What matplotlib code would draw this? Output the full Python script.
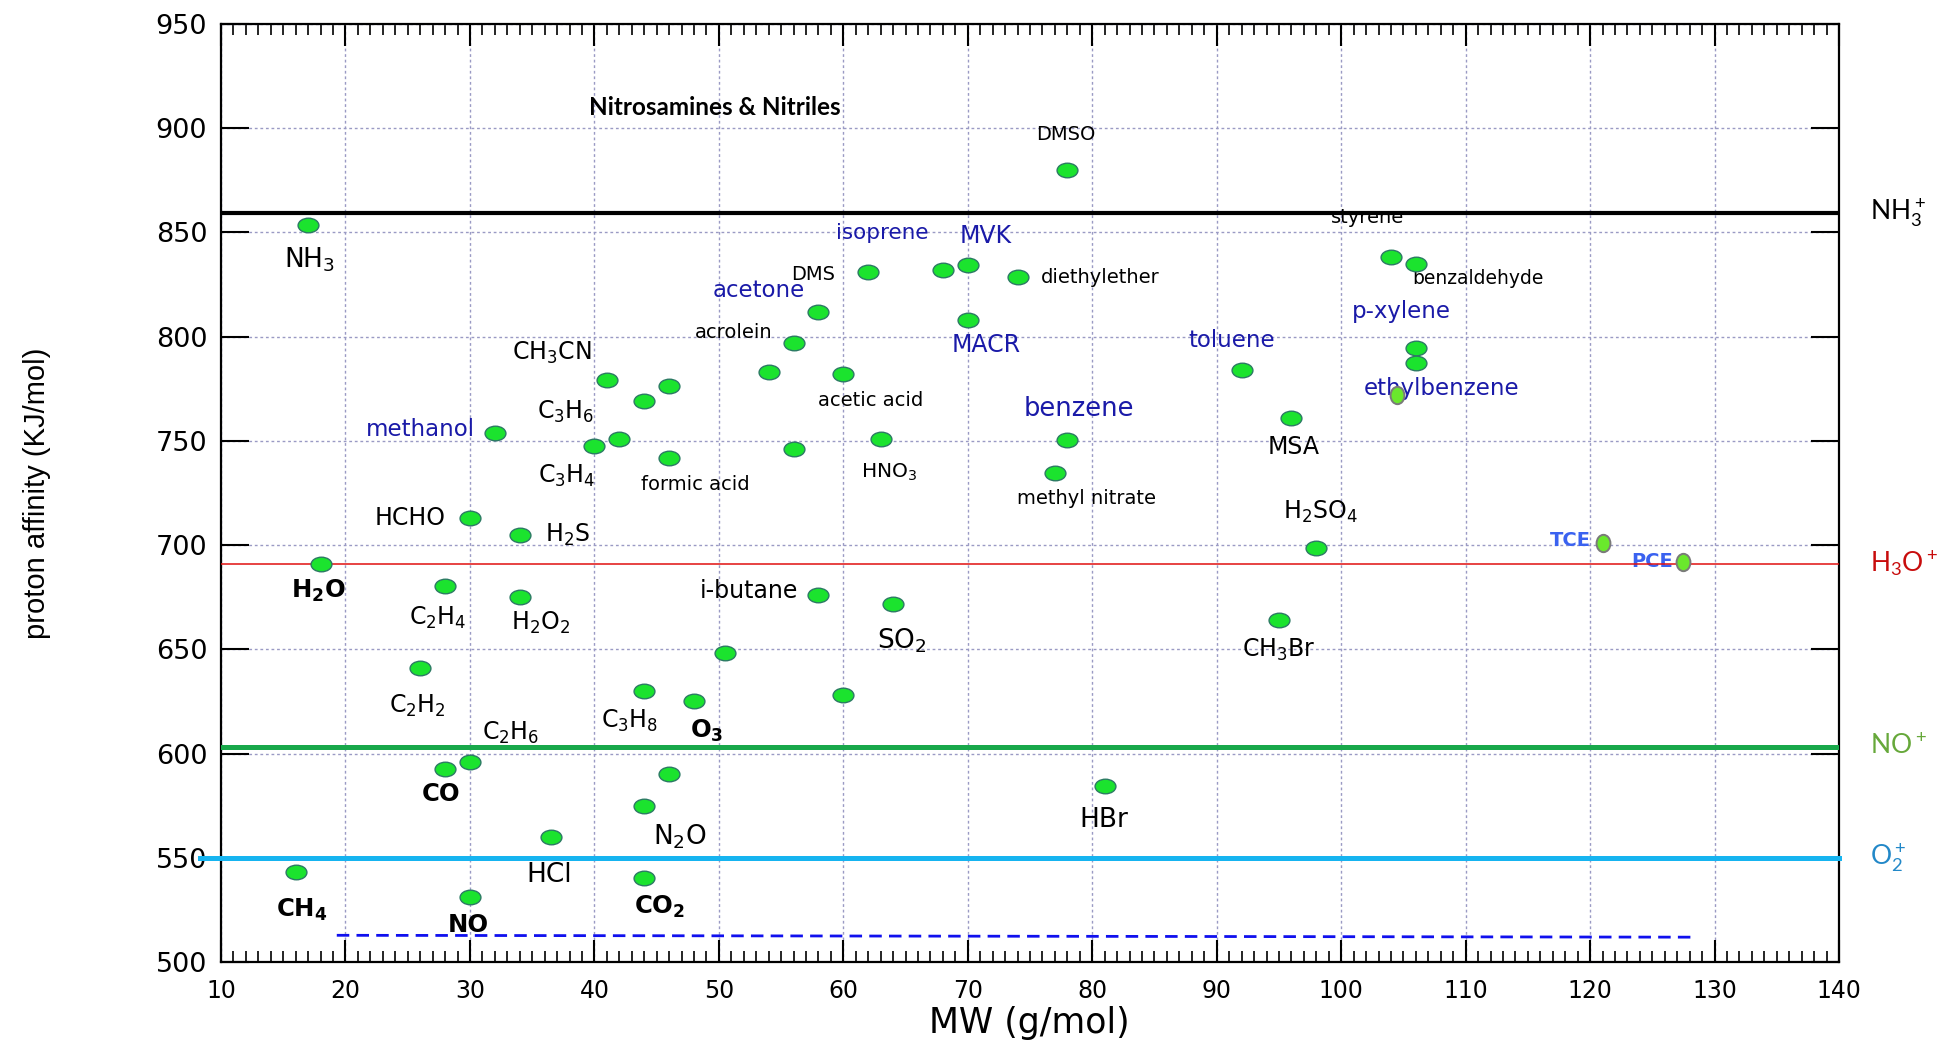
import numpy as np
import matplotlib
matplotlib.use('Agg')
import matplotlib.pyplot as plt
from matplotlib.path import Path
#--------------------------------------------------------------------------------------------------------------------
# Data: molecular weight (g/mol) and proton affinity (kJ/mol)
#--------------------------------------------------------------------------------------------------------------------
names = ['NH3', 'DMSO', 'DMS', 'isoprene', 'MVK', 'diethylether', 'MACR', 'acetone', 'acrolein', '-',
         'acetic acid', 'CH3CN', '-', '-', 'methanol', 'C3H4', 'C3H6', 'formic acid', '-', 'HNO3',
         'benzene', 'methyl nitrate', 'HCHO', 'H2S', 'H2O', 'C2H4', 'H2O2', 'i-butane', 'SO2', '-',
         'C2H2', 'C3H8', 'O3', '-', 'CO', 'C2H6', '-', 'N2O', 'HCl', 'CH4',
         'CO2', 'NO', 'HBr', 'CH3Br', 'H2SO4', 'MSA', 'toluene', 'styrene', 'benzaldehyde', 'p-xylene', '-']
mw = [17, 78, 62, 68, 70, 74, 70, 58, 56, 54,
      60, 41, 46, 44, 32, 40, 42, 46, 56, 63,
      78, 77, 30, 34, 18, 28, 34, 58, 64, 50.5,
      26, 44, 48, 60, 28, 30, 46, 44, 36.5, 16,
      44, 30, 81, 95, 98, 96, 92, 104, 106, 106, 106]
pa = [853.5, 880, 831, 832, 834.5, 828.5, 808, 812, 797, 783,
      782, 779, 776.5, 769, 754, 747.6, 751, 741.7, 746.2, 751,
      750.5, 734.5, 713, 705, 691, 680.5, 675, 676, 671.5, 648,
      641, 630, 625, 628, 592.6, 596, 590, 575, 560, 543,
      540.5, 531, 584.4, 664, 698.5, 761, 784, 838.2, 834.7, 794.7, 787.5]

# chlorinated / extra compounds (other marker)
names2 = ['ethylbenzene', 'TCE', 'PCE']
mw2 = [104.5, 121, 127.5]
pa2 = [772, 701, 692]

# reagent ion proton affinity levels
ions = [r'NH$_3^+$', r'H$_3$O$^+$', r'NO$^+$', r'O$_2^+$']
ion_pa = [859.5, 691, 603, 550]

# detection limit dashed line
limit_mw = [19.3, 128.1]
limit_pa = [512.8, 511.9]
#--------------------------------------------------------------------------------------------------------------------
# Fonts
#--------------------------------------------------------------------------------------------------------------------
plt.rcParams['font.family'] = 'DejaVu Sans'
plt.rcParams['mathtext.default'] = 'regular'
#--------------------------------------------------------------------------------------------------------------------
# Figure
#--------------------------------------------------------------------------------------------------------------------
fig = plt.figure(figsize=(19.44, 10.42), dpi=100)
ax = fig.add_axes([0.1137, 0.0768, 0.8323, 0.9002])

ax.set_xlim(10, 140)
ax.set_ylim(500, 950)
ax.set_xticks(np.arange(10, 141, 10))
ax.set_xticks(np.arange(10, 141, 1), minor=True)
ax.set_yticks(np.arange(500, 951, 50))
ax.grid(True, which='major', color='#9a9ac4', linestyle=(0, (2, 2)), linewidth=1.0, zorder=0)
ax.set_axisbelow(True)
ax.tick_params(axis='x', which='major', direction='in', length=16, width=1.5, top=True, labelsize=17, pad=12)
ax.tick_params(axis='x', which='minor', direction='in', length=8, width=1.2, top=True)
ax.tick_params(axis='y', which='major', direction='in', length=20, width=1.5, right=True, labelsize=19.5, pad=10)
for sp in ax.spines.values():
    sp.set_linewidth(1.6)

# ion lines
ax.axhline(ion_pa[0], color='black', linewidth=3.0, zorder=4)
ax.axhline(ion_pa[1], color='#e01010', linewidth=1.1, zorder=4)
ax.axhline(ion_pa[2], color='#18a84a', linewidth=3.6, zorder=4)
ax.plot([8.3, 140], [ion_pa[3], ion_pa[3]], color='#16b4f0', linewidth=3.6, zorder=4, clip_on=False)
ax.plot(limit_mw, limit_pa, color='#1010ee', linewidth=2.0, linestyle=(0, (4.5, 2.6)), zorder=4)

# elliptic markers
circ = Path.unit_circle()
wide = Path(circ.vertices * np.array([1.0, 0.7]), circ.codes)
tall = Path(circ.vertices * np.array([0.8, 1.0]), circ.codes)
ax.plot(mw, pa, linestyle='none', marker=wide, markersize=15, markerfacecolor='#1be32e',
        markeredgecolor='#2c7a64', markeredgewidth=1.0, zorder=6)
ax.plot(mw2, pa2, linestyle='none', marker=tall, markersize=12.5, markerfacecolor='#6ae82c',
        markeredgecolor='#7a7a7a', markeredgewidth=1.4, zorder=6)

# compound labels: text, x, y, color, size, weight
BL = '#1a1aa8'
labels = [
    (r'NH$_3$', 17.1, 837, 'black', 19, 'normal'),
    ('DMSO', 77.9, 897, 'black', 14, 'normal'),
    ('DMS', 57.6, 830, 'black', 14, 'normal'),
    ('isoprene', 63.1, 849.5, BL, 15.5, 'normal'),
    ('MVK', 71.4, 848.5, BL, 17, 'normal'),
    ('acetone', 53.2, 822, BL, 16.5, 'normal'),
    ('MACR', 71.5, 796, BL, 17, 'normal'),
    ('acrolein', 51.2, 802, 'black', 14, 'normal'),
    (r'CH$_3$CN', 36.6, 792, 'black', 17, 'normal'),
    ('acetic acid', 62.2, 769.5, 'black', 14, 'normal'),
    (r'C$_3$H$_6$', 37.7, 764, 'black', 17, 'normal'),
    ('methanol', 26.0, 755.5, BL, 16.5, 'normal'),
    (r'C$_3$H$_4$', 37.8, 733, 'black', 17, 'normal'),
    ('formic acid', 48.1, 729, 'black', 14, 'normal'),
    (r'HNO$_3$', 63.7, 735, 'black', 14.5, 'normal'),
    ('benzene', 78.9, 765.5, BL, 18.5, 'normal'),
    ('methyl nitrate', 79.5, 722.5, 'black', 14, 'normal'),
    ('HCHO', 25.2, 713, 'black', 17, 'normal'),
    (r'H$_2$S', 37.8, 705, 'black', 17, 'normal'),
    (r'H$_2$O', 17.8, 678, 'black', 17.5, 'bold'),
    (r'C$_2$H$_4$', 27.4, 665, 'black', 17, 'normal'),
    (r'H$_2$O$_2$', 35.7, 662.5, 'black', 17, 'normal'),
    ('i-butane', 52.4, 678, 'black', 17, 'normal'),
    (r'SO$_2$', 64.7, 654, 'black', 19, 'normal'),
    (r'C$_2$H$_2$', 25.8, 623, 'black', 17, 'normal'),
    (r'C$_2$H$_6$', 33.3, 610, 'black', 17, 'normal'),
    (r'C$_3$H$_8$', 42.8, 615.5, 'black', 17, 'normal'),
    (r'O$_3$', 49.0, 611, 'black', 17.5, 'bold'),
    ('CO', 27.7, 580.5, 'black', 17.5, 'bold'),
    (r'N$_2$O', 46.9, 560, 'black', 19, 'normal'),
    ('HCl', 36.4, 541.5, 'black', 19, 'normal'),
    (r'CH$_4$', 16.5, 525, 'black', 17.5, 'bold'),
    (r'CO$_2$', 45.2, 526.5, 'black', 17.5, 'bold'),
    ('NO', 29.9, 517.5, 'black', 17.5, 'bold'),
    ('HBr', 80.9, 568, 'black', 19, 'normal'),
    (r'CH$_3$Br', 95.0, 649.5, 'black', 17, 'normal'),
    (r'H$_2$SO$_4$', 98.3, 716, 'black', 17, 'normal'),
    ('MSA', 96.2, 747, 'black', 17, 'normal'),
    ('toluene', 91.2, 798, BL, 16.5, 'normal'),
    ('p-xylene', 104.8, 812, BL, 16.5, 'normal'),
    ('ethylbenzene', 108.1, 775, BL, 16.5, 'normal'),
    ('styrene', 102.1, 857, 'black', 14, 'normal'),
    ('benzaldehyde', 111.0, 828, 'black', 13.5, 'normal'),
    ('TCE', 118.4, 702, '#3a62f0', 14, 'bold'),
    ('PCE', 125.0, 692, '#3a62f0', 14, 'bold'),
]
for txt, x, y, c, s, w in labels:
    ax.text(x, y, txt, color=c, fontsize=s, fontweight=w, ha='center', va='center', zorder=3)
ax.text(75.9, 828.6, 'diethylether', color='black', fontsize=14, ha='left', va='center', zorder=3)

ax.text(39.6, 910, 'Nitrosamines & Nitriles', fontsize=17.5, fontweight='bold', family='Lato',
        ha='left', va='center')

# ion labels to the right of the axes
ion_colors = ['black', '#c80c0c', '#66a83a', '#2288c8']
for lab, y, c in zip(ions, ion_pa, ion_colors):
    ax.text(1.019, y, lab, transform=ax.get_yaxis_transform(), color=c, fontsize=19,
            family='Lato', ha='left', va='center', clip_on=False)

fig.text(37 / 1944, 0.527, 'proton affinity (KJ/mol)', rotation=90, fontsize=21,
         family='Liberation Sans', ha='center', va='center')
fig.text(1029 / 1944, 0.018, 'MW (g/mol)', fontsize=25, family='DejaVu Sans',
         ha='center', va='center')

plt.savefig('out.png', dpi=100)
